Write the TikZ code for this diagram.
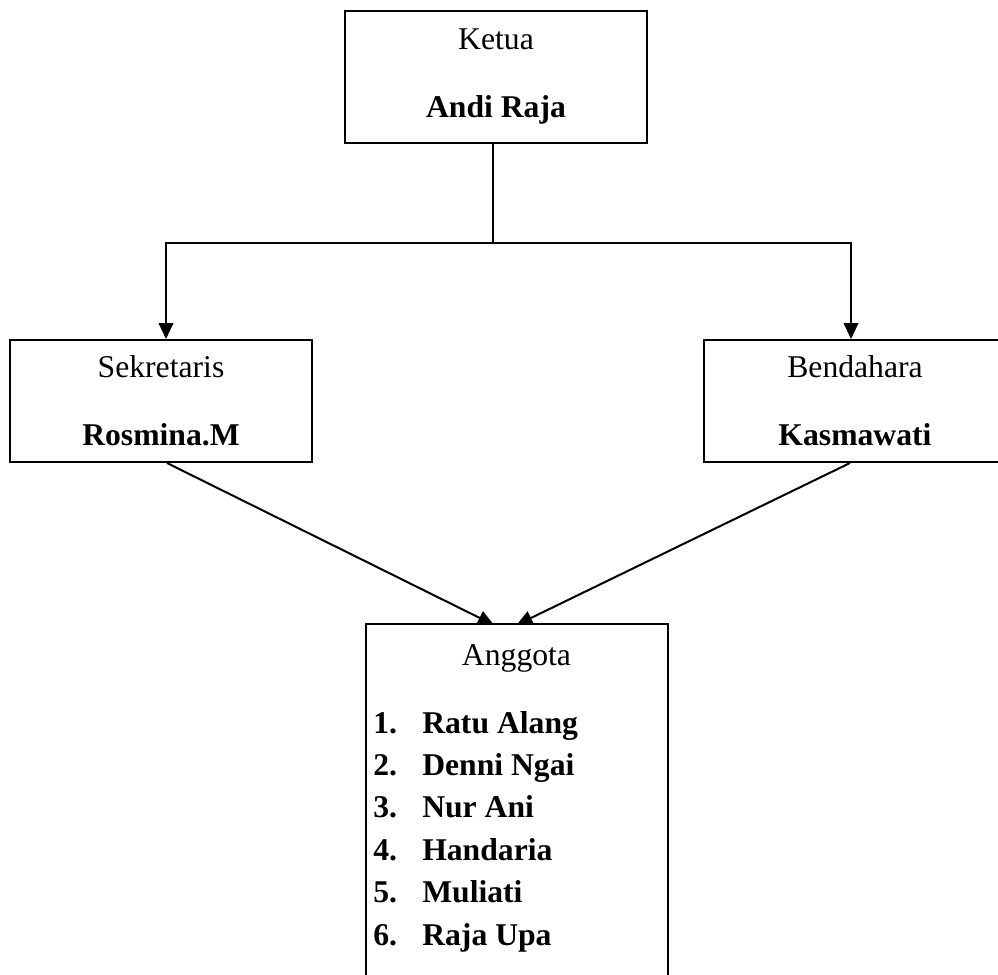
\documentclass[tikz,border=0pt]{standalone}
\usepackage{fontspec}
\setmainfont{Liberation Serif}
\usetikzlibrary{arrows.meta,backgrounds}
\begin{document}
\begin{tikzpicture}[x=0.75pt,y=-0.75pt,
  box/.style={draw, line width=1.5pt, fill=white, minimum width=226.5pt, inner sep=0pt, align=center, font=\fontsize{23.75}{51}\selectfont},
  conn/.style={line width=1.5pt},
  arr/.style={conn, -{Triangle[length=12pt,width=11pt]}},
  txt/.style={inner sep=0pt, font=\fontsize{23.75}{28}\selectfont}]
\useasboundingbox (0,0) rectangle (998,974);
\clip (0,0) rectangle (998,974);
\node[box, minimum height=99pt] (ketua) at (496,77) {Ketua\\\textbf{Andi Raja}};
\node[box, minimum height=91.5pt] (sek) at (161,401) {Sekretaris\\\textbf{Rosmina.M}};
\node[box, minimum height=91.5pt] (ben) at (855,401) {Bendahara\\\textbf{Kasmawati}};
\node[box, minimum height=289.5pt] (ang) at (516.5,817) {};
\node[txt, anchor=base] (angt) at (516.5,665) {Anggota};
\node[txt, anchor=base west] (i1) at (373,733.0) {\textbf{\makebox[36.75pt][l]{1.}Ratu Alang}};
\node[txt, anchor=base west] (i2) at (373,775.4) {\textbf{\makebox[36.75pt][l]{2.}Denni Ngai}};
\node[txt, anchor=base west] (i3) at (373,817.8) {\textbf{\makebox[36.75pt][l]{3.}Nur Ani}};
\node[txt, anchor=base west] (i4) at (373,860.2) {\textbf{\makebox[36.75pt][l]{4.}Handaria}};
\node[txt, anchor=base west] (i5) at (373,902.6) {\textbf{\makebox[36.75pt][l]{5.}Muliati}};
\node[txt, anchor=base west] (i6) at (373,945.0) {\textbf{\makebox[36.75pt][l]{6.}Raja Upa}};
\coordinate (j) at (493,243);
\begin{pgfonlayer}{background}
\draw[conn] (ketua.south -| j) -- (j);
\draw[arr] (j) -| ([xshift=3.75pt]sek.north);
\draw[arr] (j) -| ([xshift=-3pt]ben.north);
\draw[arr] ([xshift=4.5pt]sek.south) -- ([xshift=-16.9pt,yshift=-1.5pt]ang.north);
\draw[arr] ([xshift=-3.75pt]ben.south) -- ([yshift=-1.5pt]ang.north);
\end{pgfonlayer}
\end{tikzpicture}
\end{document}
